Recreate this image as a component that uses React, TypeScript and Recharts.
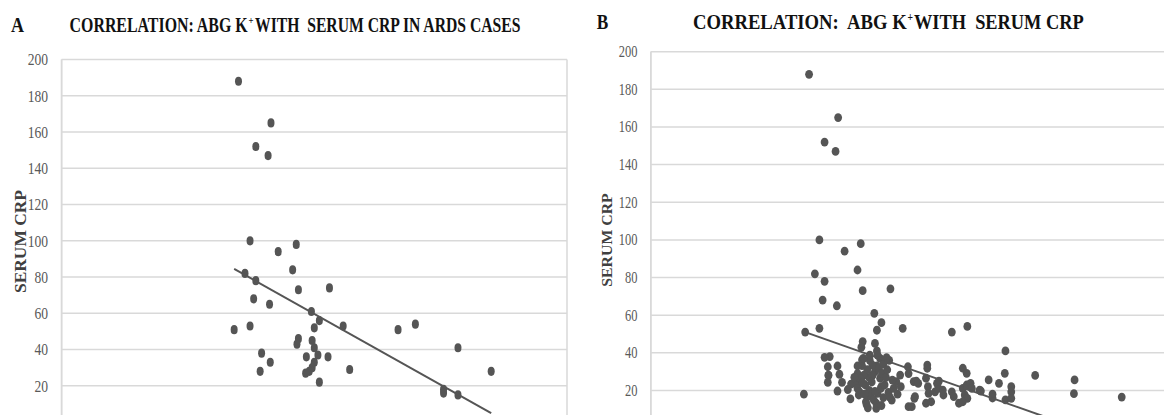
import React from "react";
import { ScatterChart, Scatter, XAxis, YAxis, CartesianGrid } from "recharts";

// ---- data (ABG K+ , serum CRP) ----
const ardsPoints: [number, number][] = [
  [2.45, 188], [2.9, 165], [2.69, 152], [2.86, 147], [2.61, 100], [3.0, 94], [3.25, 98],
  [3.2, 84], [2.54, 82], [2.69, 78], [3.28, 73], [3.71, 74], [2.66, 68], [2.88, 65],
  [3.46, 61], [3.57, 56], [3.5, 52], [3.9, 53], [2.39, 51], [2.61, 53], [4.66, 51],
  [4.9, 54], [3.28, 46], [3.26, 43], [3.47, 45], [3.5, 41], [3.55, 37], [3.39, 36],
  [3.69, 36], [2.77, 38], [2.89, 33], [3.5, 33], [3.47, 30], [3.43, 28], [3.38, 27],
  [2.75, 28], [3.99, 29], [3.57, 22], [5.49, 41], [5.29, 18], [5.29, 16], [5.49, 15],
  [5.95, 28],
];

const otherPoints: [number, number][] = [
  [2.37, 18], [2.69, 37.6], [2.74, 32.6], [2.75, 28.2], [2.74, 24.3], [2.92, 28.6],
  [2.89, 19.7], [2.96, 24.3], [3.09, 15.5], [3.1, 23.4], [3.19, 23.8], [3.2, 28.9],
  [3.2, 21.1], [3.22, 17.6], [3.23, 19.3], [3.27, 33.2], [3.2, 33], [3.27, 36.2],
  [3.29, 37.1], [3.3, 28.2], [3.32, 22.9], [3.33, 14], [3.34, 12.5], [3.36, 10.8],
  [3.39, 38.8], [3.43, 33.5], [3.43, 28.2], [3.51, 38.8], [3.53, 31.8], [3.55, 26.5],
  [3.51, 18.5], [3.49, 13.2], [3.49, 10.5], [3.56, 21.1], [3.6, 16.2], [3.65, 37.4],
  [3.68, 19], [3.73, 14.9], [3.76, 21.1], [3.8, 24.7], [3.82, 18], [3.86, 28.2],
  [3.87, 22], [3.98, 32.6], [3.99, 11.4], [4.04, 11.4], [4.08, 15.8], [4.07, 24.7],
  [4.11, 25], [4.14, 23.8], [4.09, 16.7], [4.28, 33.5], [4.28, 31.8], [4.26, 26.5],
  [4.29, 22], [4.3, 18.5], [4.26, 13.2], [4.34, 14], [4.4, 19.3], [4.43, 23.8],
  [4.45, 21.1], [4.46, 25], [4.52, 20.2], [4.53, 17.6], [4.66, 19.3], [4.69, 16.7],
  [4.77, 13.2], [4.83, 31.8], [4.89, 29.1], [4.83, 21.1], [4.89, 22.9], [4.86, 17.6],
  [4.9, 15.8], [4.83, 14], [4.95, 23.8], [4.97, 21.1], [5.09, 20.2], [5.11, 19.7],
  [5.23, 25.6], [5.39, 23.8], [5.48, 29.1], [5.58, 22], [5.58, 19.3], [5.58, 15.8],
  [6.56, 25.6], [6.55, 18.3], [7.29, 16.5],
  [3.25, 26], [3.28, 24], [3.38, 20], [3.4, 17], [3.42, 24.5], [3.45, 15], [3.47, 19.5],
  [3.58, 29], [3.62, 23], [3.64, 27], [3.35, 31], [3.7, 16.5], [3.74, 25.5], [3.57, 12],
  [3.31, 18], [3.15, 27], [3.05, 20.5], [3.6, 34], [3.66, 31],
];

const trendA: [number, number][] = [[2.39, 84.5], [5.95, 5]];
const trendB: [number, number][] = [[2.39, 51], [6.6, 0]];

const yTicks = [0, 20, 40, 60, 80, 100, 120, 140, 160, 180, 200];
const xTicksA = [0, 1, 2, 3, 4, 5, 6, 7];
const xTicksB = [0, 1, 2, 3, 4, 5, 6, 7, 8];

const toObj = (arr: [number, number][]) => arr.map(([x, y]) => ({ x, y }));

const DOT = "#555555";
const GRID = "#d9d9d9";
const FONT = "'Liberation Serif', 'Times New Roman', serif";

const makeTick = (fs: number, sx: number) => (props: any) => {
  const { x, y, payload } = props;
  if (payload.value === 0) return <g />;
  return (
    <text
      transform={`translate(${x},${y}) scale(${sx},1)`}
      textAnchor="end"
      dy="0.34em"
      fontSize={fs}
      fontFamily={FONT}
      fill="#595959"
    >
      {payload.value}
    </text>
  );
};

const makeDot = (rx: number, ry: number) => (p: any) => (
  <ellipse cx={p.cx} cy={p.cy} rx={rx} ry={ry} fill={DOT} />
);

const noShape = () => <g />;

export default function App() {
  const dataA = toObj(ardsPoints);
  const dataB = toObj([...ardsPoints, ...otherPoints]);
  const titleProps = {
    fontWeight: "bold" as const,
    fill: "#111",
    lengthAdjust: "spacingAndGlyphs",
    style: { whiteSpace: "pre" as const },
  };
  return (
    <div
      style={{
        position: "fixed",
        left: 0,
        top: 0,
        width: 1164,
        height: 415,
        overflow: "hidden",
        background: "#fff",
      }}
    >
      <div style={{ position: "absolute", left: 0, top: 0 }}>
        <ScatterChart
          width={575}
          height={470}
          margin={{ top: 59.5, right: 8, bottom: 17.9, left: 6.6 }}
        >
          <CartesianGrid stroke={GRID} strokeWidth={1.5} />
          <XAxis
            type="number"
            dataKey="x"
            domain={[0, 7]}
            ticks={xTicksA}
            height={30}
            allowDataOverflow
            axisLine={{ stroke: GRID }}
            tickLine={false}
            tick={false}
          />
          <YAxis
            type="number"
            dataKey="y"
            domain={[0, 200]}
            ticks={yTicks}
            width={55}
            allowDataOverflow
            axisLine={{ stroke: GRID, strokeWidth: 1.5 }}
            tickLine={false}
            tickMargin={7.5}
            tick={makeTick(17, 0.8)}
          />
          <Scatter data={dataA} shape={makeDot(3.5, 4.6)} isAnimationActive={false} />
          <Scatter
            data={toObj(trendA)}
            line={{ stroke: DOT, strokeWidth: 2 }}
            shape={noShape}
            isAnimationActive={false}
          />
        </ScatterChart>
      </div>
      <div style={{ position: "absolute", left: 590, top: 0 }}>
        <ScatterChart
          width={586}
          height={470}
          margin={{ top: 51.7, right: 8.4, bottom: 11.9, left: 5.8 }}
        >
          <CartesianGrid stroke={GRID} strokeWidth={1.5} />
          <XAxis
            type="number"
            dataKey="x"
            domain={[0, 8]}
            ticks={xTicksB}
            height={30}
            allowDataOverflow
            axisLine={{ stroke: GRID }}
            tickLine={false}
            tick={false}
          />
          <YAxis
            type="number"
            dataKey="y"
            domain={[0, 200]}
            ticks={yTicks}
            width={55}
            allowDataOverflow
            axisLine={{ stroke: GRID, strokeWidth: 1.5 }}
            tickLine={false}
            tickMargin={7.4}
            tick={makeTick(16, 0.78)}
          />
          <Scatter data={dataB} shape={makeDot(3.9, 4.4)} isAnimationActive={false} />
          <Scatter
            data={toObj(trendB)}
            line={{ stroke: DOT, strokeWidth: 2 }}
            shape={noShape}
            isAnimationActive={false}
          />
        </ScatterChart>
      </div>
      <svg
        width={1164}
        height={415}
        style={{ position: "absolute", left: 0, top: 0, pointerEvents: "none" }}
        fontFamily={FONT}
      >
        <text x={11} y={31.7} fontSize={20} {...titleProps} textLength={13}>A</text>
        <text x={69.6} y={31.7} fontSize={20} {...titleProps} textLength={178}>
          CORRELATION: ABG K
        </text>
        <text x={248.5} y={24} fontSize={11} {...titleProps} textLength={5}>+</text>
        <text x={255} y={31.7} fontSize={20} {...titleProps} textLength={265.4}>
          WITH  SERUM CRP IN ARDS CASES
        </text>

        <text x={596.7} y={29.3} fontSize={21} {...titleProps} textLength={11.5}>B</text>
        <text x={693} y={29.3} fontSize={21.5} {...titleProps} textLength={213.7}>
          CORRELATION:  ABG K
        </text>
        <text x={907.5} y={21} fontSize={12} {...titleProps} textLength={5.5}>+</text>
        <text x={914} y={29.3} fontSize={21.5} {...titleProps} textLength={169.7}>
          WITH  SERUM CRP
        </text>

        <text
          transform="translate(25.9,241.5) rotate(-90)"
          textAnchor="middle"
          fontSize={16.5}
          fontWeight="bold"
          fill="#404040"
          textLength={103}
          lengthAdjust="spacingAndGlyphs"
        >
          SERUM CRP
        </text>
        <text
          transform="translate(611.5,240) rotate(-90)"
          textAnchor="middle"
          fontSize={15.5}
          fontWeight="bold"
          fill="#404040"
          textLength={93.4}
          lengthAdjust="spacingAndGlyphs"
        >
          SERUM CRP
        </text>
      </svg>
    </div>
  );
}
